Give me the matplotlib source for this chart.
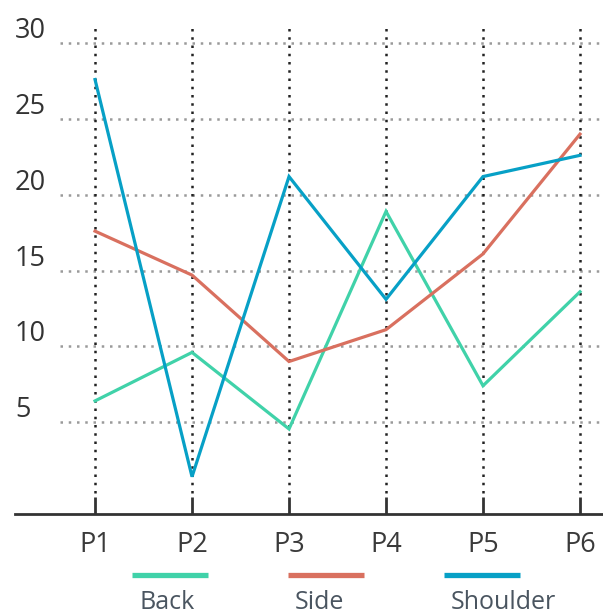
import matplotlib
matplotlib.use("Agg")
import matplotlib.pyplot as plt
from matplotlib.lines import Line2D
from matplotlib import transforms

plt.rcParams['font.family'] = ['Open Sans', 'DejaVu Sans']

categories = ["P1", "P2", "P3", "P4", "P5", "P6"]
series_names = ["Back", "Side", "Shoulder"]
back = [6.4, 9.6, 4.55, 18.9, 7.4, 13.6]
side = [17.6, 14.7, 9.0, 11.1, 16.1, 24.0]
shoulder = [27.6, 1.4, 21.2, 13.1, 21.2, 22.6]
colors = ["#40D2A9", "#D9705F", "#07A0C6"]
yticks = [5, 10, 15, 20, 25, 30]

W, H = 603, 615
fig = plt.figure(figsize=(W / 100, H / 100), dpi=100)
ax_left, ax_right, ax_top, ax_bottom = 15, 603, 23, 514
ax = fig.add_axes([ax_left / W, 1 - ax_bottom / H, (ax_right - ax_left) / W, (ax_bottom - ax_top) / H])

x = list(range(len(categories)))
ax.set_xlim(-0.825, 5.237)
ax.set_ylim(-1.06, 31.33)

# horizontal dotted gridlines
ax.hlines(yticks, -0.36, 5.237, colors="#9a9a9a", linewidth=1.8,
          linestyles=(0, (1, 2.3)), zorder=1)
# vertical dotted gridlines
ax.vlines(x, 0.3, 31.33, colors="#222222", linewidth=1.8,
          linestyles=(0, (1, 2.3)), zorder=1)

for vals, c in zip([back, side, shoulder], colors):
    ax.plot(x, vals, color=c, linewidth=2.3, zorder=3, solid_joinstyle="miter")

for s in ["top", "right", "left"]:
    ax.spines[s].set_visible(False)
ax.spines["bottom"].set_color("#333333")
ax.spines["bottom"].set_linewidth(2.0)

ax.set_xticks(x)
ax.set_xticklabels(categories, fontsize=19.5, color="#3a3a3a")
ax.tick_params(axis="x", direction="in", length=12, width=2, color="#333333", pad=12)
ax.set_yticks([])

trans = transforms.blended_transform_factory(ax.transAxes, ax.transData)
for v in yticks:
    ax.text(0.0, v, str(v), transform=trans + transforms.ScaledTranslation(0, 0.12, fig.dpi_scale_trans),
            ha="left", va="center", fontsize=19.5, color="#333333")

# legend: handle above label
leg_starts = [132, 288, 444]
for name, c, xs in zip(series_names, colors, leg_starts):
    fig.add_artist(Line2D([xs / W, (xs + 76) / W], [1 - 575 / H, 1 - 575 / H],
                          color=c, linewidth=3.8, solid_capstyle="butt"))
    fig.text((xs + 7) / W, 1 - 609 / H, name, ha="left", va="baseline",
             fontsize=18, color="#4a5560")

fig.savefig("out.png", dpi=100)
